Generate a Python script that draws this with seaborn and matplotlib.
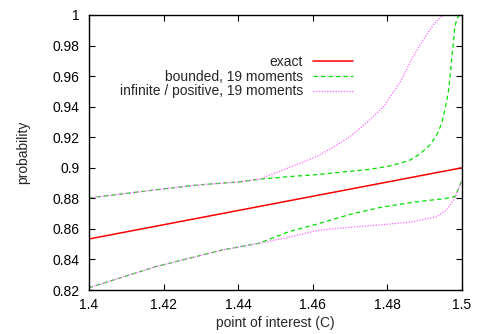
import numpy as np
import pandas as pd
import seaborn as sns
import matplotlib
matplotlib.use("Agg")
import matplotlib.pyplot as plt
from matplotlib.lines import Line2D

# ---- data ----
exact_x = [1.400, 1.500]
exact_y = [0.8534, 0.9000]

shared_up_x = [1.400, 1.410, 1.420, 1.4268, 1.430, 1.4405, 1.4456]
shared_up_y = [0.8803, 0.8832, 0.8862, 0.8881, 0.8889, 0.8908, 0.8925]

shared_lo_x = [1.400, 1.410, 1.4179, 1.425, 1.4357, 1.4456]
shared_lo_y = [0.8215, 0.8292, 0.8353, 0.8396, 0.8462, 0.8506]

bnd_up_x = [1.4536, 1.461, 1.470, 1.4753, 1.4807, 1.4834, 1.4861, 1.4887, 1.4914,
            1.4932, 1.4946, 1.4954, 1.4963, 1.4968, 1.4972, 1.4977, 1.4981,
            1.4987, 1.4993, 1.500]
bnd_up_y = [0.8942, 0.8955, 0.8977, 0.8990, 0.9012, 0.9030, 0.9051, 0.9090, 0.9149,
            0.9215, 0.9292, 0.9378, 0.9488, 0.9597, 0.9706, 0.9815, 0.9925,
            0.9980, 1.0000, 1.0000]

bnd_lo_x = [1.4536, 1.4612, 1.470, 1.478, 1.487, 1.4959, 1.4981, 1.499, 1.500]
bnd_lo_y = [0.8582, 0.8632, 0.8695, 0.8740, 0.8775, 0.8800, 0.8811, 0.8860, 0.8920]

inf_up_x = [1.4521, 1.461, 1.4655, 1.470, 1.4745, 1.4790, 1.4834, 1.4869, 1.4896,
            1.4923, 1.4946, 1.4959, 1.500]
inf_up_y = [0.8986, 0.9073, 0.9135, 0.9204, 0.9296, 0.9400, 0.9560, 0.9728, 0.9837,
            0.9935, 0.9994, 1.0000, 1.0000]

inf_lo_x = [1.4536, 1.4612, 1.470, 1.478, 1.4869, 1.4932, 1.4959, 1.4977, 1.4985, 1.4990, 1.500]
inf_lo_y = [0.8545, 0.8590, 0.8610, 0.8626, 0.8647, 0.8680, 0.8724, 0.8789, 0.8820, 0.8860, 0.8920]

labels = ["exact", "bounded, 19 moments", "infinite / positive, 19 moments"]
colors = {"exact": "#ff0000", "bounded, 19 moments": "#00e000",
          "infinite / positive, 19 moments": "#ff66ff"}

rows = []
def add(series, bound, xs, ys):
    for x, y in zip(xs, ys):
        rows.append((series, bound, x, y))

add(labels[0], "c", exact_x, exact_y)
add(labels[1], "up", shared_up_x + bnd_up_x, shared_up_y + bnd_up_y)
add(labels[1], "lo", shared_lo_x + bnd_lo_x, shared_lo_y + bnd_lo_y)
add(labels[2], "up", shared_up_x + inf_up_x, shared_up_y + inf_up_y)
add(labels[2], "lo", shared_lo_x + inf_lo_x, shared_lo_y + inf_lo_y)
df = pd.DataFrame(rows, columns=["series", "bound", "x", "y"])

sns.set_style("ticks")
plt.rcParams["font.family"] = ["Liberation Sans", "DejaVu Sans"]
plt.rcParams["font.size"] = 10

fig = plt.figure(figsize=(4.81, 3.34), dpi=100)
ax = fig.add_axes([89/481, 1 - 290/334, (462-89)/481, (290-15)/334])

styles = {
    labels[0]: dict(lw=1.1, dashes=None),
    labels[1]: dict(lw=0.9, dashes=(3.5, 2.5)),
    labels[2]: dict(lw=0.9, dashes=(1.0, 1.2)),
}
handles = []
for lab in labels:
    sub = df[df.series == lab]
    for b, g in sub.groupby("bound"):
        sns.lineplot(data=g, x="x", y="y", ax=ax, color=colors[lab],
                     lw=styles[lab]["lw"], estimator=None, sort=False)
        line = ax.get_lines()[-1]
        if styles[lab]["dashes"] is not None:
            line.set_dashes(styles[lab]["dashes"])
    h = Line2D([], [], color=colors[lab], lw=styles[lab]["lw"])
    if styles[lab]["dashes"] is not None:
        h.set_dashes(styles[lab]["dashes"])
    handles.append(h)

ax.set_xlim(1.4, 1.5)
ax.set_ylim(0.82, 1.0)
ax.set_xticks([1.4, 1.42, 1.44, 1.46, 1.48, 1.5])
ax.set_xticklabels(["1.4", "1.42", "1.44", "1.46", "1.48", "1.5"])
ax.set_yticks([0.82, 0.84, 0.86, 0.88, 0.9, 0.92, 0.94, 0.96, 0.98, 1.0])
ax.set_yticklabels(["0.82", "0.84", "0.86", "0.88", "0.9", "0.92", "0.94", "0.96", "0.98", "1"])
ax.tick_params(direction="in", length=4, width=0.8, top=True, right=True,
               labelsize=10, colors="black")
ax.tick_params(axis="y", pad=7)
ax.tick_params(axis="x", pad=6)
for s in ax.spines.values():
    s.set_visible(True)
    s.set_color("black")
    s.set_linewidth(1.0)

ax.set_xlabel("point of interest (C)", fontsize=10, labelpad=3)
ax.set_ylabel("probability", fontsize=10, labelpad=16)

leg = ax.legend(handles, labels, loc="upper right", bbox_to_anchor=((353-89)/373, (290-55)/275),
                markerfirst=False, frameon=False, fontsize=10, handlelength=2.9,
                handletextpad=0.7, borderpad=0, borderaxespad=0, labelspacing=0.05)

fig.savefig("out.png", dpi=100)
